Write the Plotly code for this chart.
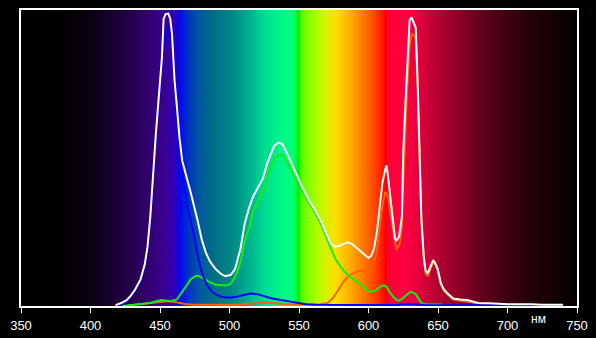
import plotly.graph_objects as go

# ---- background spectrum colour stops (wavelength, colour) ----
bg_nm = [350, 385, 400, 415, 428, 440, 450, 458, 462, 465, 470, 478, 488, 500, 512, 525, 538, 546,
         549, 552, 560, 568, 576, 586, 596, 605, 610, 612, 614, 625, 635, 645, 660, 675, 695, 715, 735, 750]
bg_colors = ["#000000", "#030003", "#0a0012", "#180030", "#240048", "#30006a", "#38008a", "#3600a6",
             "#1c00d4", "#0010f0", "#0034c0", "#0058a0", "#006e84", "#008486", "#00aa8e", "#00dc90",
             "#00f888", "#00ff78", "#00f000", "#60ff00", "#a0ff00", "#d0f400", "#ffe000", "#ffb000",
             "#ff7800", "#ff4000", "#ff1800", "#ff0000", "#ff0034", "#ff0040", "#e8003c", "#c00034",
             "#98002a", "#700020", "#450012", "#250008", "#100003", "#050000"]

# ---- spectrum curves ----
white_nm = [418, 422, 426, 429, 432, 436, 439, 441, 443, 445, 447, 449, 451.4, 452.6, 454, 456, 457.4,
            458.6, 459.6, 460.5, 462.4, 464, 466, 468, 470, 472, 474, 477, 480, 483, 486, 490, 494, 497,
            501, 504, 506, 508, 511, 514, 517, 520, 524, 527, 530, 532, 535, 538, 541, 545, 549, 553, 558,
            562, 566, 570, 573, 576, 579, 582, 585, 588, 591, 594, 597, 600, 602, 604, 606, 608, 610, 612,
            613, 614, 615.5, 617, 619, 620, 622, 624, 625, 626.5, 628, 629.6, 631, 632.5, 634, 635.4, 637,
            638, 639.7, 641, 642.6, 644.8, 646.5, 648, 649.8, 652, 654, 657, 661, 666, 671, 675, 679, 687,
            700, 717, 725, 740]
white_v = [0.3, 1, 2, 3.5, 5.5, 9, 14, 20, 30, 45, 58, 70, 84, 97, 98.6, 98.8, 97, 92, 81, 76, 66, 57,
           49, 45, 42, 38.5, 35, 29, 22.5, 18, 15, 12.5, 10.8, 10.1, 10.5, 12.5, 16, 19.5, 28, 33, 37,
           39.5, 43, 48, 52, 54, 55.2, 54.7, 52, 47.5, 43.6, 39.5, 35, 32, 28.5, 24, 21, 20, 20.3, 21,
           21.5, 21, 19.8, 18.6, 17.5, 16.2, 17, 19.5, 25, 34, 41.6, 46, 47.5, 44, 37, 30, 23, 22, 23.5,
           30, 52, 68, 81, 96.6, 97.5, 96, 94, 75, 47, 30, 17, 12, 11, 13.5, 15.5, 14.5, 12.5, 7.8, 5.8,
           4.2, 2.5, 2.2, 2, 1.5, 1, 0.9, 0.6, 0.6, 0.4, 0.4]

blue_nm = [418, 424, 428, 432, 436, 439, 441, 443, 445, 447, 449, 451.4, 452.6, 454, 456, 457.4, 459,
           460.5, 462.4, 464, 466, 468, 470, 472, 474, 476.8, 479, 481, 484, 487, 491, 495, 500, 505, 510,
           515, 520, 525, 530, 537, 543, 549, 555, 562, 580, 620, 625, 632, 640, 700, 717]
blue_v = [0.2, 0.8, 2.5, 5, 8.5, 13.5, 19.5, 29.5, 44.5, 57.5, 69.5, 82, 88, 92, 94, 93, 84, 75, 65, 56,
          45, 39, 33, 29, 25, 18, 13, 10, 7, 5, 3.7, 3, 2.8, 3.1, 3.7, 4.2, 4, 3.2, 2.6, 2, 1.5, 1, 0.6,
          0.4, 0.3, 0.3, 0.6, 0.6, 0.3, 0.2, 0.2]

green_nm = [423, 430, 438, 443, 447, 451, 455, 458, 462, 465, 467, 470, 472, 475, 477, 480, 483, 486,
            490, 495, 498, 501, 503, 505.6, 508, 511, 514.6, 517, 520, 524, 527, 529.5, 532, 534.5, 537,
            539, 541.5, 544, 549, 556, 561, 565.5, 569, 572.7, 576, 580, 584, 587, 591, 594, 597, 600, 603,
            606, 609, 611, 613, 615, 618, 621, 623, 625, 628, 630, 632, 634, 636, 638, 641, 653]
green_v = [0, 0.4, 0.6, 1, 1.6, 2, 1.8, 1.6, 2.2, 4, 5.5, 7.5, 9, 10, 10.2, 9.7, 8.8, 8, 7.2, 7, 6.9,
           7.6, 9, 11.5, 15, 22, 27, 32, 35, 38.5, 43, 47, 49.5, 50.7, 51, 50.7, 48.5, 46, 41.5, 35.8, 32,
           28, 24, 20, 16, 13.2, 11, 9.8, 8.5, 7.5, 6.2, 5, 4.8, 5.5, 6.7, 7, 6.5, 4.8, 3, 1.8, 2, 2.8,
           4, 4.7, 4.6, 4, 2.5, 1, 0.5, 0.5]

orange_nm = [427, 435, 445, 450, 455, 460, 464, 468, 474, 490, 505, 515, 520, 526, 531, 540, 555, 565,
             570.5, 574, 577.7, 581, 585, 589, 592, 596, 599, 601.5, 603, 605, 606.6, 608.7, 610.5, 612,
             613, 614.5, 616, 617, 619, 620, 622.4, 624, 625, 626.5, 628, 629.6, 631, 632.5, 634, 635.4,
             637, 638, 639.7, 641, 642.6, 644.8, 646.5, 648, 649.8, 652, 654, 657, 661, 666, 671, 675,
             679, 687]
orange_v = [0.2, 0.6, 1.2, 1.5, 1.6, 1.4, 1.0, 0.7, 0.4, 0.3, 0.4, 0.8, 1, 1.2, 1, 0.6, 0.5, 0.6, 1,
            2.5, 5, 7.5, 10, 11.2, 11.8, 11.9, 11.9, 12, 13.5, 16.6, 21, 30, 35, 38.5, 38, 36, 31, 28,
            21, 19, 21, 27, 42, 60, 75, 88, 92, 91.5, 90, 73, 46, 29, 16, 11, 10, 12.5, 14.8, 14, 12,
            7.3, 5.3, 3.8, 2.2, 1.8, 1.6, 1.2, 0.8, 0.5]

tick_vals = [350, 400, 450, 500, 550, 600, 650, 700, 750]
tick_text = ["350", "400", "450", "500", "550", "600", "650", "700", "750"]
unit_label = "нм"

colorscale = [[(w - 350) / 400, c] for w, c in zip(bg_nm, bg_colors)]

fig = go.Figure()
fig.add_trace(go.Heatmap(x=bg_nm, y=[0, 100], z=[bg_nm, bg_nm], zmin=350, zmax=750,
                         colorscale=colorscale, zsmooth="best", showscale=False, hoverinfo="skip"))

for xs, ys, col in [(orange_nm, orange_v, "#ff6000"),
                    (green_nm, green_v, "#10f010"),
                    (blue_nm, blue_v, "#0000ff"),
                    (white_nm, white_v, "#ffffff")]:
    fig.add_trace(go.Scatter(x=xs, y=ys, mode="lines", line=dict(color=col, width=2),
                             hoverinfo="skip"))

fig.add_annotation(x=722, y=-0.045, xref="x", yref="paper", text=unit_label, showarrow=False,
                   font=dict(color="white", size=12, family="Liberation Sans"),
                   xanchor="center", yanchor="middle")

fig.update_layout(
    width=596, height=338,
    margin=dict(l=21, r=19, t=10, b=32),
    paper_bgcolor="black", plot_bgcolor="black",
    showlegend=False,
    xaxis=dict(range=[350, 750], tickvals=tick_vals, ticktext=tick_text, ticks="outside",
               ticklen=5, tickcolor="white", tickwidth=1, showline=True, linecolor="white",
               linewidth=1.5, mirror=True, showgrid=False, zeroline=False, automargin=False,
               tickfont=dict(color="white", size=13, family="Liberation Sans"),
               ticklabelstandoff=2),
    yaxis=dict(range=[0, 100], showticklabels=False, ticks="", showline=True, linecolor="white",
               linewidth=1.5, mirror=True, showgrid=False, zeroline=False, automargin=False),
)

fig.write_html("out.html")
